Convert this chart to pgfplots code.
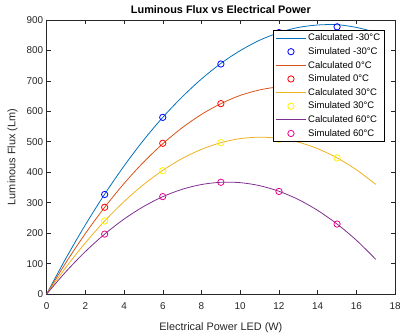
\documentclass[border=0pt]{standalone}
\usepackage{fontspec}
\setmainfont{Liberation Sans}
\usepackage{pgfplots}
\pgfplotsset{compat=1.18}
\definecolor{c1}{rgb}{0,0.447,0.741}
\definecolor{c2}{rgb}{0.85,0.325,0.098}
\definecolor{c3}{rgb}{0.929,0.694,0.125}
\definecolor{c4}{rgb}{0.494,0.184,0.556}
\definecolor{axgray}{rgb}{0.15,0.15,0.15}
\pgfplotsset{
 linelegend/.style={legend image code/.code={\draw[##1] (0pt,0pt) -- (30pt,0pt);}},
 marklegend/.style={legend image code/.code={\draw[##1] plot coordinates {(15pt,0pt)};}},
}
\begin{document}
\begin{tikzpicture}
\begin{axis}[name=ax, at={(0,0)}, anchor=south west, scale only axis,
 width=352pt, height=277pt,
 xmin=0, xmax=18, ymin=0, ymax=900,
 xtick={0,2,...,18}, ytick={0,100,...,900},
 tick align=inside, major tick length=4pt,
 axis line style={color=axgray, line width=0.6pt},
 tick style={color=axgray, line width=0.5pt},
 ticklabel style={font=\fontsize{10}{12}\selectfont, color=axgray},
 xticklabel style={yshift=-5pt},
 /pgf/number format/assume math mode=true,
 xlabel={Electrical Power LED (W)}, ylabel={Luminous Flux (Lm)},
 label style={font=\fontsize{11}{13}\selectfont, color=axgray},
 xlabel style={yshift=-6pt},
 ylabel style={yshift=2pt},
 title={\bfseries Luminous Flux vs Electrical Power},
 title style={font=\fontsize{11}{13}\selectfont, color=black, yshift=-3.5pt},
 legend style={at={(0.969,0.964)}, anchor=north east,
   font=\fontsize{9.6}{11}\selectfont, draw=black, fill=white,
   inner sep=2pt, row sep=1.3pt, line width=0.5pt},
 legend cell align=left,
 mark size=3.2pt,
]
\addplot[c1, line width=0.8pt, smooth, linelegend] coordinates {
(0,0) (1,117.7) (2,227) (3,328) (4,420.4) (5,504.5) (6,580) (7,647) (8,706) (9,757)
(10,799) (11,833) (12,858) (13,875) (14,883) (15,884) (16,875) (17,859)};
\addlegendentry{Calculated -30°C}
\addplot[blue, only marks, mark=o, mark options={line width=0.8pt}, marklegend] coordinates {
(3,327) (6,580) (9,755) (12,858) (15,877)};
\addlegendentry{Simulated -30°C}
\addplot[c2, line width=0.8pt, smooth, linelegend] coordinates {
(0,0) (1,103.5) (2,198.6) (3,285) (4,363) (5,432.5) (6,493.4) (7,545.8) (8,589.8) (9,625)
(10,652) (11,670) (12,680) (13,681) (14,674) (15,658) (16,634) (17,601)};
\addlegendentry{Calculated 0°C}
\addplot[red, only marks, mark=o, mark options={line width=0.8pt}, marklegend] coordinates {
(3,285) (6,495) (9,625) (12,680) (15,658)};
\addlegendentry{Simulated 0°C}
\addplot[c3, line width=0.8pt, smooth, linelegend] coordinates {
(0,0) (1,88.1) (2,168.1) (3,240) (4,303.6) (5,359) (6,406.1) (7,444.9) (8,475.1) (9,497)
(10,510.3) (11,515) (12,511.1) (13,498.5) (14,477.2) (15,447) (16,408) (17,360)};
\addlegendentry{Calculated 30°C}
\addplot[yellow, only marks, mark=o, mark options={line width=0.8pt}, marklegend] coordinates {
(3,240) (6,405) (9,497) (12,508) (15,447)};
\addlegendentry{Simulated 30°C}
\addplot[c4, line width=0.8pt, smooth, linelegend] coordinates {
(0,0) (1,73.8) (2,139.5) (3,197) (4,246.2) (5,287.1) (6,319.8) (7,344) (8,359.7) (9,367)
(10,365.8) (11,356) (12,337.5) (13,310.5) (14,274.6) (15,230) (16,176.7) (17,114)};
\addlegendentry{Calculated 60°C}
\addplot[magenta, only marks, mark=o, mark options={line width=0.8pt}, marklegend] coordinates {
(3,197) (6,320) (9,367) (12,337) (15,230)};
\addlegendentry{Simulated 60°C}
\end{axis}
\path ([shift={(-47pt,-42pt)}]ax.south west) rectangle ([shift={(5pt,20pt)}]ax.north east);
\end{tikzpicture}
\end{document}
